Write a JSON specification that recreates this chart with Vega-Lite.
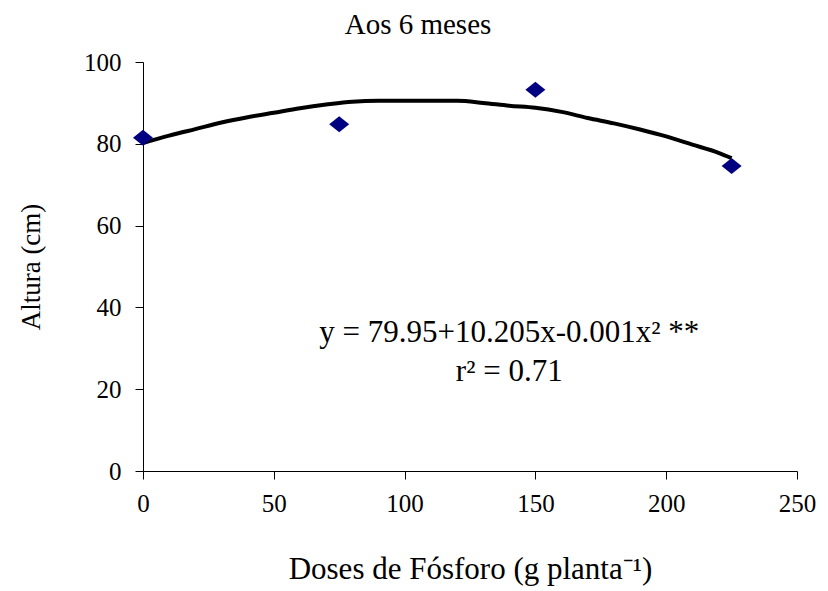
{
  "$schema": "https://vega.github.io/schema/vega-lite/v6.json",
  "autosize": "none",
  "width": 654,
  "height": 409,
  "padding": {"left": 143, "top": 62, "right": 31, "bottom": 120},
  "background": "white",
  "config": {
    "view": {"stroke": null},
    "font": "Liberation Serif",
    "axis": {"grid": false, "domainColor": "black", "tickColor": "black", "labelColor": "black", "titleColor": "black", "labelFont": "Liberation Serif", "titleFont": "Liberation Serif", "titleFontWeight": "normal", "domainWidth": 1, "tickWidth": 1, "labelFlush": false}
  },
  "title": {"text": "Aos 6 meses", "font": "Liberation Serif", "fontSize": 29, "fontWeight": "normal", "color": "black", "dx": -52, "offset": 10, "anchor": "middle"},
  "datasets": {
    "obs": [
      {"dose": 0, "altura": 81.5},
      {"dose": 75, "altura": 84.8},
      {"dose": 150, "altura": 93.2},
      {"dose": 225, "altura": 74.6}
    ],
    "fit": [
      {"dose": 0, "altura": 80.2},
      {"dose": 10, "altura": 82.0},
      {"dose": 20, "altura": 83.6},
      {"dose": 30, "altura": 85.2},
      {"dose": 40, "altura": 86.5},
      {"dose": 50, "altura": 87.6},
      {"dose": 60, "altura": 88.7},
      {"dose": 70, "altura": 89.6},
      {"dose": 80, "altura": 90.3},
      {"dose": 90, "altura": 90.5},
      {"dose": 100, "altura": 90.5},
      {"dose": 110, "altura": 90.5},
      {"dose": 120, "altura": 90.5},
      {"dose": 130, "altura": 90.0},
      {"dose": 140, "altura": 89.3},
      {"dose": 150, "altura": 88.8},
      {"dose": 160, "altura": 87.8},
      {"dose": 170, "altura": 86.3},
      {"dose": 180, "altura": 85.0},
      {"dose": 190, "altura": 83.5},
      {"dose": 200, "altura": 81.8},
      {"dose": 210, "altura": 79.8},
      {"dose": 220, "altura": 77.8},
      {"dose": 225, "altura": 76.5}
    ],
    "notes": [
      {"dose": 140, "altura": 33.7, "label": "y = 79.95+10.205x-0.001x² **"},
      {"dose": 140, "altura": 24.2, "label": "r² = 0.71"}
    ]
  },
  "encoding": {
    "x": {"field": "dose", "type": "quantitative", "scale": {"domain": [0, 250], "nice": false, "zero": true},
      "axis": {"values": [0, 50, 100, 150, 200, 250], "title": "Doses de Fósforo (g planta⁻¹)", "titleFontSize": 31, "titlePadding": 38, "labelFontSize": 25, "labelPadding": 12, "tickSize": 8}},
    "y": {"field": "altura", "type": "quantitative", "scale": {"domain": [0, 100], "nice": false},
      "axis": {"values": [0, 20, 40, 60, 80, 100], "title": "Altura (cm)", "titleFontSize": 27, "titlePadding": 38, "labelFontSize": 25, "labelPadding": 14, "tickSize": 8}}
  },
  "layer": [
    {"data": {"name": "fit"}, "mark": {"type": "line", "color": "black", "strokeWidth": 4, "interpolate": "monotone"}},
    {"data": {"name": "obs"}, "mark": {"type": "point", "shape": "M-1,0L0,-0.8L1,0L0,0.8Z", "filled": true, "color": "#000080", "opacity": 1, "size": 400}},
    {"data": {"name": "notes"}, "mark": {"type": "text", "font": "Liberation Serif", "fontSize": 31, "color": "black", "baseline": "middle", "align": "center"},
      "encoding": {"text": {"field": "label"}}}
  ]
}
